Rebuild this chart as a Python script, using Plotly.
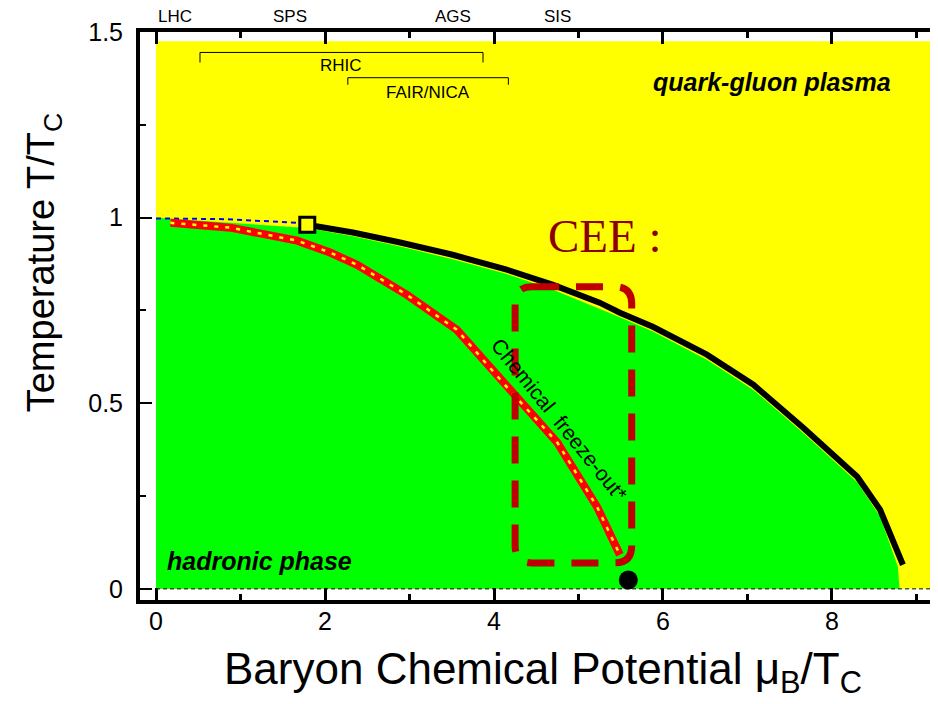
import plotly.graph_objects as go

# --- data ---
# phase boundary (thick black line), from the critical point onwards
boundary_mu = [1.79, 2.33, 2.89, 3.51, 4.15, 4.70, 5.25, 5.49, 5.88, 6.52, 7.07, 7.66, 8.30, 8.57, 8.84]
boundary_T = [0.981, 0.960, 0.933, 0.900, 0.860, 0.819, 0.771, 0.744, 0.706, 0.631, 0.550, 0.434, 0.302, 0.213, 0.065]

# edge of the green (hadronic) region
hadron_mu = [0.0, 0.0, 1.79, 2.33, 2.89, 3.51, 4.15, 4.70, 5.49, 5.88, 6.52, 7.07, 7.66, 8.30, 8.57, 8.78, 8.80]
hadron_T = [0.0, 1.0, 0.972, 0.950, 0.922, 0.888, 0.848, 0.806, 0.732, 0.693, 0.617, 0.536, 0.420, 0.287, 0.195, 0.060, 0.0]

# crossover (blue dashed) from mu=0 to the critical point
crossover_mu = [0.0, 0.8, 1.79]
crossover_T = [0.998, 0.996, 0.985]

# chemical freeze-out curve
freeze_mu = [0.17, 0.88, 1.67, 2.06, 2.38, 2.97, 3.56, 4.15, 4.75, 5.22, 5.49]
freeze_T = [0.986, 0.973, 0.938, 0.906, 0.873, 0.792, 0.698, 0.544, 0.394, 0.221, 0.092]

critical_point = (1.79, 0.981)
ground_point = (5.59, 0.024)

X_MAX = 9.35
QGP_TOP = 1.475

# accelerator labels on top
facility_names = ['LHC', 'SPS', 'AGS', 'SIS']
facility_mu = [0.22, 1.59, 3.51, 4.75]

# energy scan brackets
rhic_mu = [0.52, 3.87]
rhic_T = [1.445, 1.418]
fair_mu = [2.27, 4.17]
fair_T = [1.377, 1.358]

# CEE box (mu0, mu1, T0, T1)
cee_box = (4.25, 5.63, 0.070, 0.814)

fig = go.Figure()

# 背景の領域
fig.add_trace(go.Scatter(
    x=[0, X_MAX, X_MAX, 0], y=[0, 0, QGP_TOP, QGP_TOP],
    fill='toself', fillcolor='#FFFF00', mode='lines', line=dict(width=0),
    hoverinfo='skip', showlegend=False))
fig.add_trace(go.Scatter(
    x=hadron_mu, y=hadron_T,
    fill='toself', fillcolor='#00FF00', mode='lines', line=dict(width=0),
    hoverinfo='skip', showlegend=False))

# T=0 dashed line
fig.add_trace(go.Scatter(
    x=[0, X_MAX], y=[0, 0], mode='lines',
    line=dict(color='black', width=1, dash='4px,3px'), showlegend=False))

# crossover
fig.add_trace(go.Scatter(
    x=crossover_mu, y=crossover_T, mode='lines',
    line=dict(color='#0000FF', width=2, dash='5px,4px'), showlegend=False))

# first-order boundary
fig.add_trace(go.Scatter(
    x=boundary_mu, y=boundary_T, mode='lines',
    line=dict(color='black', width=6), showlegend=False))

# freeze-out
fig.add_trace(go.Scatter(
    x=freeze_mu, y=freeze_T, mode='lines',
    line=dict(color='#FF0000', width=8), showlegend=False))
fig.add_trace(go.Scatter(
    x=freeze_mu, y=freeze_T, mode='lines',
    line=dict(color='#FFFF00', width=2.5, dash='4px,7px'), showlegend=False))

# brackets
for mus, Ts in [(rhic_mu, rhic_T), (fair_mu, fair_T)]:
    fig.add_trace(go.Scatter(
        x=[mus[0], mus[0], mus[1], mus[1]], y=[Ts[1], Ts[0], Ts[0], Ts[1]],
        mode='lines', line=dict(color='black', width=1), showlegend=False))

# points
fig.add_trace(go.Scatter(
    x=[critical_point[0]], y=[critical_point[1]], mode='markers',
    marker=dict(symbol='square', size=15, color='#FFFF00', line=dict(color='black', width=3)),
    showlegend=False))
fig.add_trace(go.Scatter(
    x=[ground_point[0]], y=[ground_point[1]], mode='markers',
    marker=dict(size=19, color='black'), showlegend=False, cliponaxis=False))

# CEE box with rounded corners
m0, m1, t0, t1 = cee_box
rx, ry = 0.2, 0.046
path = (f'M {m0+rx},{t1} L {m1-rx},{t1} Q {m1},{t1} {m1},{t1-ry} '
        f'L {m1},{t0+ry} Q {m1},{t0} {m1-rx},{t0} L {m0+rx},{t0} '
        f'Q {m0},{t0} {m0},{t0+ry} L {m0},{t1-ry} Q {m0},{t1} {m0+rx},{t1} Z')
fig.add_shape(type='path', path=path, xref='x', yref='y',
              line=dict(color='#C00000', width=7, dash='27px,17px'))

font = 'Liberation Sans, Arial, sans-serif'
ann = []
for name, mu in zip(facility_names, facility_mu):
    ann.append(dict(x=mu, y=1.028, yref='paper', yanchor='middle', text=name,
                    showarrow=False, font=dict(size=17, color='black')))
ann += [
    dict(x=2.19, y=1.41, text='RHIC', showarrow=False, font=dict(size=17)),
    dict(x=3.22, y=1.337, text='FAIR/NICA', showarrow=False, font=dict(size=17)),
    dict(x=7.29, y=1.366, text='<b><i>quark-gluon plasma</i></b>', showarrow=False, font=dict(size=25)),
    dict(x=1.23, y=0.075, text='<b><i>hadronic phase</i></b>', showarrow=False, font=dict(size=25)),
    dict(x=4.77, y=0.455, text='Chemical  freeze-out*', showarrow=False, textangle=51,
         font=dict(size=21)),
    dict(x=5.31, y=0.95, text='CEE :', showarrow=False,
         font=dict(size=47, color='#8B0000', family='Liberation Serif, Times New Roman, serif')),
    dict(x=-0.119, y=0.593, xref='paper', yref='paper', xanchor='center', yanchor='middle',
         text='Temperature T/T<sub>C</sub>', showarrow=False, textangle=-90, font=dict(size=38)),
    dict(x=0.5, y=-0.127, xref='paper', yref='paper', xanchor='center', yanchor='middle',
         text='Baryon Chemical Potential μ<sub>B</sub>/T<sub>C</sub>',
         showarrow=False, font=dict(size=44)),
]

fig.update_layout(
    width=938, height=704,
    margin=dict(l=132, r=0, t=24, b=112, autoexpand=False),
    paper_bgcolor='white', plot_bgcolor='white',
    font=dict(family=font, color='black'),
    annotations=ann,
    xaxis=dict(
        range=[-0.19, X_MAX], showgrid=False, zeroline=False,
        showline=True, linewidth=4, linecolor='black', mirror='ticks',
        ticks='inside', ticklen=12, tickwidth=3, tickcolor='black',
        tick0=0, dtick=2, tickfont=dict(size=25), ticklabelstandoff=-4,
        minor=dict(ticks='inside', dtick=1, ticklen=6, tickwidth=3, tickcolor='black'),
    ),
    yaxis=dict(
        range=[-0.03, 1.5001], showgrid=False, zeroline=False,
        showline=True, linewidth=4, linecolor='black', mirror='ticks',
        ticks='inside', ticklen=12, tickwidth=2, tickcolor='black',
        tick0=0, dtick=0.5, tickfont=dict(size=25), ticklabelstandoff=8,
        minor=dict(ticks='inside', dtick=0.25, ticklen=6, tickwidth=2, tickcolor='black'),
    ),
)

fig.write_html('out.html')
